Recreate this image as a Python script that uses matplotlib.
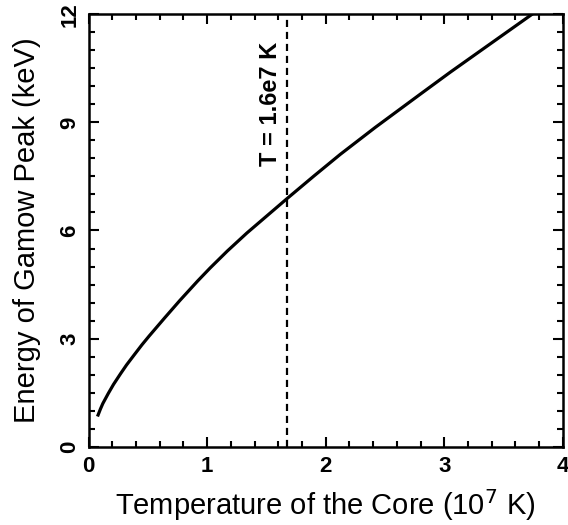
import matplotlib
matplotlib.use("Agg")
import matplotlib.pyplot as plt
from matplotlib.ticker import MultipleLocator

# Data
temperature = [0.075, 0.10, 0.12, 0.166, 0.21, 0.27, 0.32, 0.38, 0.45, 0.51,
               0.64, 0.77, 0.92, 1.025, 1.17, 1.335, 1.672, 1.9, 2.122,
               2.418, 2.797, 3.05, 3.346, 3.754]
energy = [0.84, 1.05, 1.2, 1.48, 1.73, 2.03, 2.27, 2.53, 2.83, 3.07,
          3.57, 4.06, 4.6, 4.96, 5.43, 5.93, 6.88, 7.51, 8.11,
          8.86, 9.78, 10.39, 11.08, 12.03]
t_marker = 1.673
marker_label = "T = 1.6e7 K"
x_ticks = [0, 1, 2, 3, 4]
y_ticks = [0, 3, 6, 9, 12]

plt.rcParams['font.family'] = ['Liberation Sans', 'DejaVu Sans']

fig = plt.figure(figsize=(5.68, 5.25), dpi=100)
ax = fig.add_axes([0.156, 0.149, 0.835, 0.824])

ax.plot(temperature, energy, color='black', lw=2.3, solid_capstyle='butt',
        solid_joinstyle='round')
ax.axvline(t_marker, color='black', lw=1.6, ls=(0, (3.2, 2.2)))
ax.text(1.53, 9.5, marker_label, rotation=90, ha='center', va='center',
        fontsize=17, fontweight='bold')

ax.set_xlim(0, 4)
ax.set_ylim(0, 12)
ax.set_xticks(x_ticks)
ax.set_yticks(y_ticks)
ax.xaxis.set_minor_locator(MultipleLocator(0.2))
ax.yaxis.set_minor_locator(MultipleLocator(0.5))
ax.tick_params(which='both', direction='in', top=True, right=True, width=1.5)
ax.tick_params(which='major', length=7)
ax.tick_params(which='minor', length=4)
ax.tick_params(axis='x', which='major', labelsize=16, pad=7)
ax.tick_params(axis='y', which='major', labelsize=16, pad=6)
for lab in ax.get_xticklabels():
    lab.set_fontweight('bold')
for lab in ax.get_yticklabels():
    lab.set_fontweight('bold')
    lab.set_rotation(90)
    lab.set_va('center')

for s in ax.spines.values():
    s.set_linewidth(1.8)

ax.set_xlabel("Temperature of the Core (10$^{7}$ K)", fontsize=21, labelpad=7)
ax.set_ylabel("Energy of Gamow Peak (keV)", fontsize=21, labelpad=13)

fig.savefig("out.png", dpi=100)
